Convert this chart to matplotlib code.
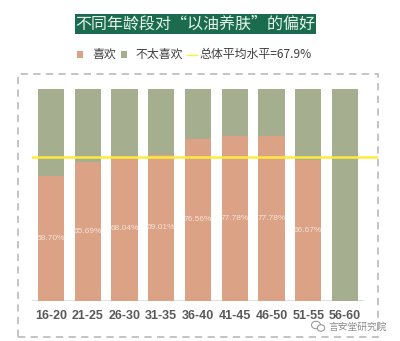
import matplotlib
matplotlib.use("Agg")
import matplotlib.pyplot as plt
from matplotlib.patches import Rectangle, Ellipse
from matplotlib.lines import Line2D

plt.rcParams['font.family'] = ['Noto Sans CJK SC', 'DejaVu Sans']

# Data
age_groups = ["16-20", "21-25", "26-30", "31-35", "36-40", "41-45", "46-50", "51-55", "56-60"]
like_pct = [58.70, 65.69, 68.04, 69.01, 76.56, 77.78, 77.78, 66.67, 0.0]
overall_avg = 67.9

C_LIKE = "#DBA286"
C_DISLIKE = "#A5AE8F"
C_AVG = "#FFEB3B"

W, H = 400, 341
fig = plt.figure(figsize=(W / 100, H / 100), dpi=100)


def fx(px):
    return px / W


def fy(py):
    return 1 - py / H


# Dashed frame around the chart body
fig.patches.append(Rectangle((fx(18), fy(337)), fx(378) - fx(18), fy(74) - fy(337),
                             transform=fig.transFigure, fill=False,
                             edgecolor="#BFBFBF", lw=1.3, ls=(0, (4, 3))))

# Title on a dark green band
fig.patches.append(Rectangle((fx(75), fy(34)), fx(316) - fx(75), fy(14) - fy(34),
                             transform=fig.transFigure, facecolor="#1B6B4F",
                             edgecolor="none"))
fig.text(fx(195.5), fy(24.5), "不同年龄段对“以油养肤”的偏好", ha="center", va="center",
         fontsize=11.5, color="#E6F4EF")

# Legend row
leg_y = 54.5
fig.patches.append(Rectangle((fx(77), fy(58)), fx(6), fy(51) - fy(58),
                             transform=fig.transFigure, facecolor=C_LIKE, edgecolor="none"))
fig.text(fx(92), fy(leg_y), "喜欢", ha="left", va="center", fontsize=8.6, color="#404040")
fig.patches.append(Rectangle((fx(121), fy(58)), fx(6), fy(51) - fy(58),
                             transform=fig.transFigure, facecolor=C_DISLIKE, edgecolor="none"))
fig.text(fx(135), fy(leg_y), "不太喜欢", ha="left", va="center", fontsize=8.6, color="#404040")
fig.lines.append(Line2D([fx(187), fx(197)], [fy(leg_y), fy(leg_y)], transform=fig.transFigure,
                        color=C_AVG, lw=1.0))
fig.text(fx(199), fy(leg_y), f"总体平均水平={overall_avg}%", ha="left", va="center",
         fontsize=8.6, color="#404040")

# Plot area
ax_left, ax_right = 32, 378
ax_top, ax_bottom = 89, 300.7
ax = fig.add_axes([fx(ax_left), fy(ax_bottom), fx(ax_right) - fx(ax_left), fy(ax_top) - fy(ax_bottom)])

x = list(range(len(age_groups)))
like = [v / 100 for v in like_pct]
dislike = [1 - v for v in like]
bar_w = 0.71
ax.bar(x, like, width=bar_w, color=C_LIKE, edgecolor="none", zorder=2)
ax.bar(x, dislike, bottom=like, width=bar_w, color=C_DISLIKE, edgecolor="none", zorder=2)

for xi, v in zip(x, like_pct):
    if v > 0:
        ax.text(xi, v / 200, f"{v:.2f}%", ha="center", va="center", fontsize=6.0,
                color="#F6E3D8", family=["Liberation Sans", "DejaVu Sans"], zorder=3)

ax.axhline(overall_avg / 100, color=C_AVG, lw=1.8, zorder=4)

step = 36.75
ax.set_xlim(-(51 - ax_left) / step, 8 + (ax_right - 345) / step)
ax.set_ylim(0, 1)
for s in ax.spines.values():
    s.set_visible(False)
ax.axhline(0, xmin=0, xmax=(363 - ax_left) / (ax_right - ax_left), color="#D9D9D9", lw=1.2, zorder=1)
ax.set_yticks([])
ax.set_xticks(x)
ax.set_xticklabels(age_groups, fontsize=9, color="#595959", fontweight="bold",
                   family=["Liberation Sans", "DejaVu Sans"])
ax.tick_params(axis="x", length=0, pad=6.5)
ax.patch.set_alpha(0)

# Account mark in the lower right corner
fig.patches.append(Ellipse((fx(316), fy(325)), fx(9), fy(0) - fy(7.5), transform=fig.transFigure,
                           fill=False, edgecolor="#9A9A9A", lw=0.8))
fig.patches.append(Ellipse((fx(321), fy(328)), fx(7.5), fy(0) - fy(6.5), transform=fig.transFigure,
                           facecolor="white", edgecolor="#9A9A9A", lw=0.8))
fig.text(fx(328), fy(327), "言安堂研究院", ha="left", va="center", fontsize=7.0, color="#8C8C8C")

fig.savefig("out.png", dpi=100)
